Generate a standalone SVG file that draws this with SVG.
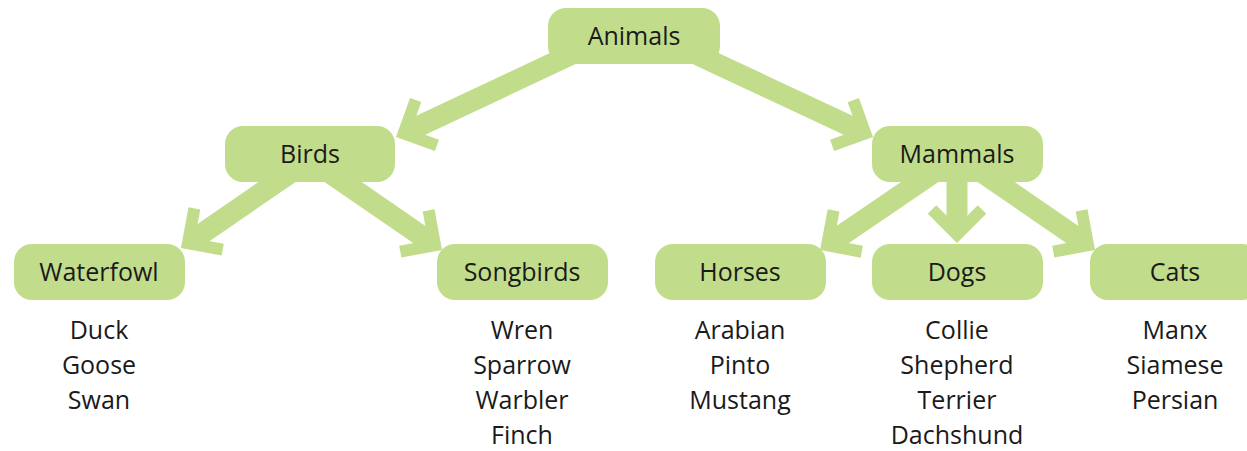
<svg xmlns="http://www.w3.org/2000/svg" width="1247" height="451" viewBox="0 0 1247 451">
<style>
.box{fill:#c1dd8b}
.lbl{font-family:"Open Sans","Liberation Sans",sans-serif;font-size:25px;fill:#1a1a1a;text-anchor:middle}
.shaft{stroke:#c1dd8b;stroke-width:21;fill:none}
</style>
<defs>
<marker id="chev" markerUnits="userSpaceOnUse" markerWidth="80" markerHeight="80" viewBox="-40 -40 80 80" refX="0" refY="0" orient="auto" overflow="visible">
<path d="M -19 -25 L 6 0 L -19 25" fill="none" stroke="#c1dd8b" stroke-width="12" stroke-linejoin="miter"/>
</marker>
</defs>
<rect width="1247" height="451" fill="#ffffff"/>
<g id="connectors">
<line class="shaft" x1="585" y1="48" x2="409.1" y2="130.8" marker-end="url(#chev)"/>
<line class="shaft" x1="683" y1="48" x2="859.9" y2="130.8" marker-end="url(#chev)"/>
<line class="shaft" x1="290" y1="173" x2="192.9" y2="239.8" marker-end="url(#chev)"/>
<line class="shaft" x1="330" y1="173" x2="430.1" y2="241.8" marker-end="url(#chev)"/>
<line class="shaft" x1="933" y1="173" x2="832" y2="241.8" marker-end="url(#chev)"/>
<line class="shaft" x1="957" y1="175" x2="957" y2="228.5" marker-end="url(#chev)"/>
<line class="shaft" x1="983" y1="173" x2="1083.1" y2="241.8" marker-end="url(#chev)"/>
</g>
<g id="animals"><rect class="box" x="548" y="8" width="172" height="56" rx="18"/><text class="lbl" x="634" y="45">Animals</text></g>
<g id="birds"><rect class="box" x="225" y="126" width="170" height="56" rx="18"/><text class="lbl" x="310" y="163">Birds</text></g>
<g id="mammals"><rect class="box" x="872" y="126" width="171" height="56" rx="18"/><text class="lbl" x="957" y="163">Mammals</text></g>
<g id="waterfowl"><rect class="box" x="14" y="244" width="171" height="56" rx="18"/><text class="lbl" x="99" y="281">Waterfowl</text>
<text class="lbl" x="99" y="339">Duck</text><text class="lbl" x="99" y="374">Goose</text><text class="lbl" x="99" y="409">Swan</text></g>
<g id="songbirds"><rect class="box" x="437" y="244" width="171" height="56" rx="18"/><text class="lbl" x="522" y="281">Songbirds</text>
<text class="lbl" x="522" y="339">Wren</text><text class="lbl" x="522" y="374">Sparrow</text><text class="lbl" x="522" y="409">Warbler</text><text class="lbl" x="522" y="444">Finch</text></g>
<g id="horses"><rect class="box" x="655" y="244" width="171" height="56" rx="18"/><text class="lbl" x="740" y="281">Horses</text>
<text class="lbl" x="740" y="339">Arabian</text><text class="lbl" x="740" y="374">Pinto</text><text class="lbl" x="740" y="409">Mustang</text></g>
<g id="dogs"><rect class="box" x="872" y="244" width="171" height="56" rx="18"/><text class="lbl" x="957" y="281">Dogs</text>
<text class="lbl" x="957" y="339">Collie</text><text class="lbl" x="957" y="374">Shepherd</text><text class="lbl" x="957" y="409">Terrier</text><text class="lbl" x="957" y="444">Dachshund</text></g>
<g id="cats"><rect class="box" x="1090" y="244" width="171" height="56" rx="18"/><text class="lbl" x="1175" y="281">Cats</text>
<text class="lbl" x="1175" y="339">Manx</text><text class="lbl" x="1175" y="374">Siamese</text><text class="lbl" x="1175" y="409">Persian</text></g>
</svg>
